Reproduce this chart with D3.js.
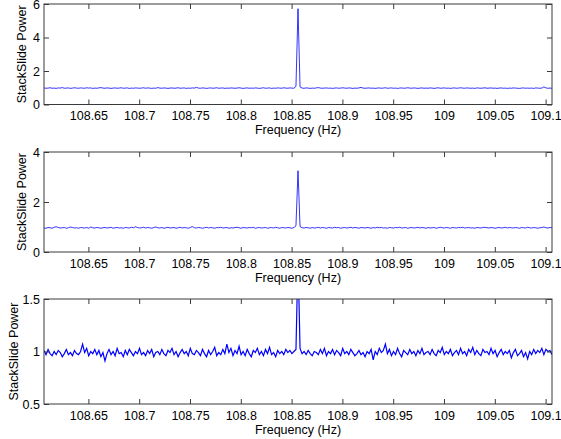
<!DOCTYPE html>
<html><head><meta charset="utf-8">
<script src="https://cdn.jsdelivr.net/npm/d3@7"></script>
<style>
html,body{margin:0;padding:0;background:#fff;}
svg{display:block;font-family:"Liberation Sans",Arial,Helvetica,sans-serif;}
</style></head>
<body>
<svg id="chart" width="561" height="439"></svg>
<script>
// ---- data ----
const xTickValues = [108.65,108.7,108.75,108.8,108.85,108.9,108.95,109,109.05,109.1];
const xTickLabels = ["108.65","108.7","108.75","108.8","108.85","108.9","108.95","109","109.05","109.1"];
const xLabel = "Frequency (Hz)";
const yLabel = "StackSlide Power";

// panel 1: frequency bins of 0.002 Hz starting at 108.6063
const p1Start = 108.6063, p1Step = 0.002;
const p1Values = [
0.99,0.97,0.98,1.00,0.97,0.98,0.96,0.99,0.98,1.01,
0.97,0.98,0.99,0.96,0.98,1.00,0.98,0.97,0.99,0.98,
0.97,1.00,0.98,0.99,0.96,0.98,0.97,0.99,1.01,0.98,
0.97,0.99,0.98,0.96,0.98,0.99,0.97,0.98,1.00,0.97,
0.98,0.99,0.96,0.98,0.97,0.99,0.98,0.97,0.98,1.00,
0.97,0.99,0.98,0.96,0.98,0.97,1.01,0.98,0.97,0.99,
0.98,0.96,0.98,0.99,0.97,0.98,1.00,0.97,0.98,0.99,
0.96,0.98,0.97,0.99,0.98,1.02,0.98,0.97,0.99,0.98,
0.96,0.98,0.99,0.97,0.98,1.00,0.97,0.98,0.99,0.96,
0.98,0.97,0.99,0.98,0.97,0.98,1.00,0.98,0.96,0.98,
0.99,0.97,0.98,0.97,0.99,0.98,0.96,0.98,1.00,0.97,
0.98,0.99,0.96,0.98,0.97,0.99,0.98,0.97,1.00,0.98,
0.97,0.99,0.98,0.97,1.08,5.72,1.05,0.98,0.97,0.99,
0.98,0.96,0.98,0.97,0.99,1.01,0.98,0.97,0.98,0.99,
0.97,0.98,0.96,0.98,0.99,0.97,0.98,1.00,0.98,0.97,
0.99,0.98,0.96,0.98,0.97,0.99,1.02,0.98,0.97,0.98,
0.99,0.97,0.98,0.96,0.98,0.99,0.97,0.98,1.00,0.97,
0.98,0.99,0.97,0.98,0.96,0.98,0.99,0.97,0.98,1.00,
0.98,0.97,0.99,0.98,0.96,0.98,0.99,0.97,0.98,0.97,
0.99,0.98,0.96,0.98,1.00,0.97,0.98,0.99,0.97,0.98,
0.96,0.98,0.99,0.97,0.98,1.00,0.98,0.97,0.99,0.98,
0.97,0.98,0.96,0.99,0.98,0.97,0.98,1.00,0.97,0.98,
0.99,0.97,0.98,0.96,0.98,0.99,0.97,0.98,0.96,0.98,
0.97,0.99,0.98,0.97,0.96,0.98,0.99,0.97,0.98,0.97,
0.98,0.96,0.99,0.98,0.97,0.98,1.05,0.99,0.97,0.98,
0.97];
const p1YTicks = [0,2,4,6];

// panel 2
const p2Start = 108.6063, p2Step = 0.002;
const p2Values = [
0.96,0.95,0.98,0.97,0.95,0.99,1.01,0.98,0.96,0.97,
0.98,0.95,0.97,1.00,0.98,0.96,0.97,0.95,0.98,0.97,
0.96,0.98,0.95,1.00,0.97,0.96,0.98,0.97,0.95,0.97,
0.98,0.96,0.97,0.99,0.95,0.97,0.98,0.96,0.97,0.95,
0.98,0.97,0.96,0.99,0.97,1.01,0.98,0.96,0.97,0.99,
0.96,0.98,0.97,0.95,0.98,1.00,0.97,0.96,0.98,0.95,
0.97,0.99,0.96,0.97,0.98,0.95,0.97,0.99,0.96,0.98,
0.97,0.95,0.98,1.02,0.97,0.96,0.98,0.97,0.95,0.97,
0.99,0.96,0.98,0.97,0.95,0.98,0.97,0.99,0.96,0.97,
0.98,0.95,0.97,0.96,0.98,0.99,0.97,0.95,0.98,0.97,
0.96,0.98,0.97,0.99,0.95,0.97,0.98,0.96,0.97,0.98,
0.95,0.97,0.98,0.96,0.99,0.97,0.95,0.98,0.97,0.96,
0.98,0.97,0.95,0.98,1.05,3.25,1.02,0.97,0.96,0.98,
0.97,0.95,0.98,0.96,0.97,0.99,0.96,0.98,0.97,0.95,
0.98,0.97,0.96,0.99,0.97,0.98,0.95,0.97,0.98,0.96,
0.97,0.99,0.96,0.98,0.97,0.95,0.98,0.97,0.96,0.98,
0.97,0.95,0.98,0.96,0.99,0.97,0.98,0.96,0.97,0.95,
0.98,0.97,0.96,0.98,0.97,0.99,0.96,0.97,0.98,0.95,
0.97,0.98,0.96,0.97,0.99,0.96,0.98,0.97,0.95,0.98,
0.96,0.97,0.98,0.95,0.97,0.99,0.97,0.96,0.98,0.97,
0.95,0.98,0.97,0.96,0.98,0.97,0.99,0.96,0.97,0.98,
0.96,0.97,0.95,0.98,0.97,0.96,0.98,0.99,0.97,0.96,
0.98,0.97,0.95,0.97,0.98,0.96,0.97,0.99,0.96,0.98,
0.97,0.96,0.98,0.97,0.95,0.98,0.97,0.96,0.99,0.97,
0.96,0.98,0.97,0.95,0.97,0.98,1.00,0.97,0.96,0.98,
0.97];
const p2YTicks = [0,2,4];

// panel 3
const p3Start = 108.6063, p3Step = 0.002;
const p3Values = [
1.01,0.97,1.02,0.98,0.96,1.00,0.97,1.01,0.99,0.95,
0.98,1.02,0.97,0.99,0.96,1.01,0.98,0.97,1.00,1.07,
0.99,1.03,0.96,1.00,0.98,1.02,0.97,1.01,0.95,0.99,
0.91,0.98,1.02,0.97,1.00,0.96,1.03,0.98,0.99,0.95,
1.01,0.97,1.02,0.99,0.96,1.00,0.98,1.03,0.97,0.99,
0.96,1.01,0.98,1.02,0.95,0.99,1.00,0.97,1.02,0.98,
0.96,1.01,0.99,1.03,0.97,1.00,0.95,0.99,1.02,0.98,
1.00,0.96,1.03,0.98,0.97,1.01,0.99,0.96,1.02,0.98,
0.95,1.01,0.97,1.00,1.04,0.96,0.99,0.97,1.02,0.98,
1.07,0.99,1.03,0.96,1.01,0.98,1.05,0.97,1.00,0.96,
1.02,0.98,0.95,1.01,0.99,1.03,0.97,1.00,0.96,1.02,
0.98,1.04,0.97,0.99,0.95,1.01,0.98,1.00,0.97,1.02,
0.99,1.01,0.98,1.00,1.02,1.90,1.03,0.98,1.00,0.97,
1.01,0.98,0.96,1.00,0.99,0.97,1.02,0.98,1.03,0.96,
1.00,0.98,1.02,0.97,1.01,0.99,0.96,1.03,0.98,1.00,
0.97,1.02,0.99,0.96,0.98,1.01,0.97,0.99,0.95,1.00,
0.98,1.02,0.92,1.00,0.97,1.03,0.99,1.01,1.07,0.98,
1.02,0.96,1.00,0.97,1.03,0.98,0.95,1.01,0.99,0.97,
1.02,0.98,1.00,0.96,1.01,0.98,1.03,0.97,0.99,1.00,
0.97,1.02,0.98,0.96,1.01,0.99,1.04,0.97,1.00,0.98,
1.02,0.96,0.99,1.01,0.97,1.03,0.98,1.00,0.96,1.02,
0.99,1.04,0.97,1.01,0.98,0.96,1.02,0.99,1.00,0.97,
1.03,0.98,1.01,0.95,0.99,1.02,0.97,1.00,0.98,1.01,
0.94,0.99,1.02,0.96,0.98,1.01,0.95,0.99,0.93,1.00,
0.97,1.02,0.98,1.01,0.99,1.03,0.97,1.02,1.00,1.01,
0.97];
const p3YTicks = [0.5,1,1.5];

// ---- layout ----
const svg = d3.select("#chart");
const left = 44, right = 552;
const xDomain = [108.6063, 109.1063];

const panels = [
  {top:4,   bottom:104.5, yDomain:[0,6],     yTicks:p1YTicks, start:p1Start, step:p1Step, values:p1Values, ylabX:26, sw:0.8},
  {top:152, bottom:252,   yDomain:[0,4],     yTicks:p2YTicks, start:p2Start, step:p2Step, values:p2Values, ylabX:26, sw:0.8},
  {top:299, bottom:404,   yDomain:[0.5,1.5], yTicks:p3YTicks, start:p3Start, step:p3Step, values:p3Values, ylabX:18, sw:1.2}
];

const axisColor = "#3a3a3a";
const fontSize = 12.5;

panels.forEach((p, i) => {
  const x = d3.scaleLinear().domain(xDomain).range([left, right]);
  const y = d3.scaleLinear().domain(p.yDomain).range([p.bottom, p.top]);
  const g = svg.append("g");

  const clipId = "clip" + i;
  svg.append("clipPath").attr("id", clipId).append("rect")
    .attr("x", left).attr("y", p.top).attr("width", right-left).attr("height", p.bottom-p.top);

  const data = p.values.map((v, k) => ({f: p.start + k*p.step, v}));
  const line = d3.line().x(d => x(d.f)).y(d => y(d.v));
  g.append("path").datum(data)
    .attr("d", line)
    .attr("fill", "none")
    .attr("stroke", "#0000ff")
    .attr("stroke-width", p.sw)
    .attr("stroke-linejoin", "miter")
    .attr("clip-path", `url(#${clipId})`);

  const ax = [
    {gen: d3.axisBottom(x).tickValues(xTickValues).tickFormat((d,k)=>xTickLabels[k]), t:`translate(0,${p.bottom})`},
    {gen: d3.axisTop(x).tickValues(xTickValues).tickFormat(""), t:`translate(0,${p.top})`},
    {gen: d3.axisLeft(y).tickValues(p.yTicks).tickFormat(d3.format("")), t:`translate(${left},0)`},
    {gen: d3.axisRight(y).tickValues(p.yTicks).tickFormat(""), t:`translate(${right},0)`}
  ];
  ax.forEach((a, k) => {
    const ag = g.append("g").attr("transform", a.t)
      .call(a.gen.tickSizeInner(-5).tickSizeOuter(0).tickPadding(k===0?7:4));
    ag.select(".domain").remove();
    ag.selectAll(".tick line").attr("stroke", axisColor).attr("stroke-width", 1);
    ag.selectAll(".tick text").attr("fill", "#000").style("font-size", fontSize+"px")
      .style("font-family", '"Liberation Sans",Arial,Helvetica,sans-serif');
  });

  g.append("rect").attr("x", left).attr("y", p.top)
    .attr("width", right-left).attr("height", p.bottom-p.top)
    .attr("fill", "none").attr("stroke", axisColor).attr("stroke-width", 1);

  g.append("text").attr("x", (left+right)/2).attr("y", p.bottom + 29.5)
    .attr("text-anchor", "middle").style("font-size", fontSize+"px").text(xLabel);

  g.append("text")
    .attr("transform", `translate(${p.ylabX},${(p.top+p.bottom)/2}) rotate(-90)`)
    .attr("text-anchor", "middle").style("font-size", fontSize+"px").text(yLabel);
});
</script>
</body></html>
